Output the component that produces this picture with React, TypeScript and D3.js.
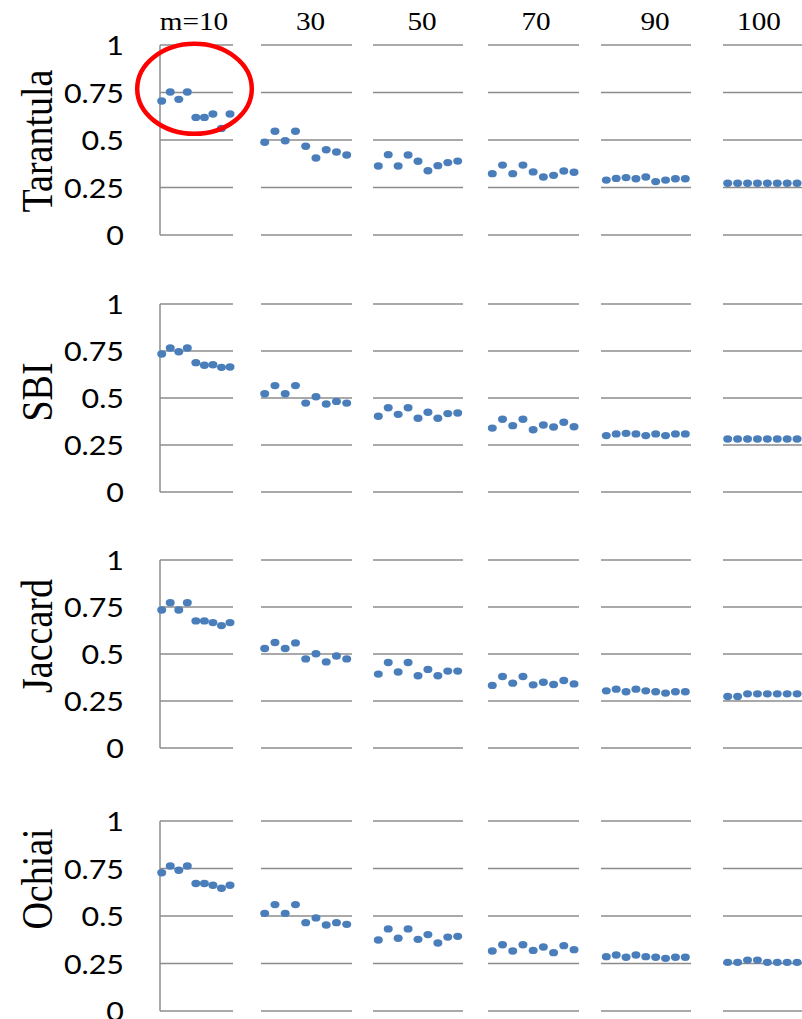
import React from 'react';
import * as d3 from 'd3';

// Data
const methods = ['Tarantula', 'SBI', 'Jaccard', 'Ochiai'];
const mLabels = ['m=10', '30', '50', '70', '90', '100'];
const yTicks = [0, 0.25, 0.5, 0.75, 1];
const yTickLabels = ['0', '0.25', '0.5', '0.75', '1'];

const tarantulaValues = [
  [0.705, 0.753, 0.714, 0.753, 0.619, 0.619, 0.637, 0.561, 0.637],
  [0.488, 0.546, 0.496, 0.546, 0.467, 0.405, 0.449, 0.437, 0.421],
  [0.363, 0.423, 0.363, 0.421, 0.388, 0.338, 0.365, 0.381, 0.389],
  [0.323, 0.368, 0.323, 0.368, 0.332, 0.305, 0.314, 0.337, 0.330],
  [0.289, 0.298, 0.302, 0.296, 0.305, 0.281, 0.289, 0.296, 0.296],
  [0.272, 0.272, 0.272, 0.272, 0.272, 0.272, 0.272, 0.272, 0.272],
];

const sbiValues = [
  [0.734, 0.766, 0.746, 0.766, 0.688, 0.674, 0.677, 0.663, 0.665],
  [0.523, 0.566, 0.523, 0.566, 0.473, 0.507, 0.468, 0.482, 0.473],
  [0.403, 0.448, 0.413, 0.448, 0.392, 0.424, 0.392, 0.417, 0.420],
  [0.340, 0.387, 0.353, 0.387, 0.331, 0.356, 0.346, 0.371, 0.347],
  [0.300, 0.309, 0.312, 0.309, 0.300, 0.309, 0.300, 0.309, 0.309],
  [0.282, 0.282, 0.282, 0.282, 0.282, 0.282, 0.282, 0.282, 0.282],
];

const jaccardValues = [
  [0.734, 0.773, 0.734, 0.773, 0.676, 0.676, 0.667, 0.651, 0.667],
  [0.529, 0.561, 0.529, 0.559, 0.474, 0.501, 0.458, 0.489, 0.474],
  [0.393, 0.455, 0.404, 0.455, 0.384, 0.418, 0.384, 0.409, 0.409],
  [0.333, 0.380, 0.345, 0.380, 0.336, 0.350, 0.338, 0.359, 0.341],
  [0.304, 0.313, 0.299, 0.313, 0.304, 0.299, 0.292, 0.299, 0.299],
  [0.274, 0.274, 0.288, 0.288, 0.288, 0.288, 0.288, 0.288, 0.288],
];

const ochiaiValues = [
  [0.728, 0.763, 0.741, 0.763, 0.671, 0.671, 0.662, 0.646, 0.662],
  [0.514, 0.560, 0.514, 0.560, 0.465, 0.490, 0.453, 0.465, 0.456],
  [0.374, 0.432, 0.383, 0.432, 0.377, 0.402, 0.358, 0.389, 0.393],
  [0.316, 0.349, 0.316, 0.349, 0.319, 0.337, 0.307, 0.344, 0.323],
  [0.286, 0.295, 0.283, 0.295, 0.286, 0.283, 0.277, 0.283, 0.283],
  [0.256, 0.256, 0.268, 0.268, 0.256, 0.256, 0.256, 0.256, 0.256],
];

const allValues = [tarantulaValues, sbiValues, jaccardValues, ochiaiValues];

// Layout (pixels)
const W = 802;
const H = 1019;
const rowsLayout = [
  { top: 45, bottom: 235, labelY: 141 },
  { top: 304, bottom: 492, labelY: 392 },
  { top: 560, bottom: 748, labelY: 636 },
  { top: 821, bottom: 1011, labelY: 879 },
];
const panelsLayout = [
  { x0: 160, x1: 233, d0: 161.7, d1: 230, titleX: 194 },
  { x0: 261, x1: 352, d0: 264.7, d1: 346.7, titleX: 310.5 },
  { x0: 373, x1: 463, d0: 378.3, d1: 457.7, titleX: 422 },
  { x0: 488, x1: 579, d0: 492.3, d1: 574, titleX: 536 },
  { x0: 601, x1: 691, d0: 606.3, d1: 685.3, titleX: 655 },
  { x0: 723, x1: 814, d0: 727.7, d1: 807, titleX: 759 },
];

const gridColor = '#8c8c8c';
const dotColor = '#4a7ebb';
const stretch = 1.17;

export default function App() {
  return (
    <div style={{ position: 'absolute', left: 0, top: 0 }}>
      <svg width={W} height={H} viewBox={`0 0 ${W} ${H}`} style={{ display: 'block', background: '#fff' }}>
        <rect width={W} height={H} fill="#fff" />

        {/* column headers */}
        {mLabels.map((lab, i) => (
          <text
            key={lab}
            transform={`translate(${panelsLayout[i].titleX},30) scale(${stretch},1)`}
            textAnchor="middle"
            fontFamily="'Liberation Serif', 'Times New Roman', serif"
            fontSize={25}
            fill="#000"
          >
            {lab}
          </text>
        ))}

        {methods.map((method, r) => {
          const row = rowsLayout[r];
          const y = d3.scaleLinear().domain([0, 1]).range([row.bottom, row.top]);
          return (
            <g key={method}>
              {/* row label */}
              <text
                transform={`translate(52,${row.labelY}) scale(${stretch},1) rotate(-90)`}
                textAnchor="middle"
                fontFamily="'Liberation Serif', 'Times New Roman', serif"
                fontSize={38}
                fill="#000"
              >
                {method}
              </text>

              {/* y tick labels */}
              {yTicks.map((t, k) => (
                <text
                  key={t}
                  transform={`translate(124,${y(t)}) scale(${stretch},1)`}
                  textAnchor="end"
                  dominantBaseline="central"
                  fontFamily="Lato, 'Open Sans', sans-serif"
                  fontSize={26}
                  fill="#000"
                >
                  {yTickLabels[k]}
                </text>
              ))}

              {panelsLayout.map((p, c) => {
                const x = d3.scaleLinear().domain([0, 8]).range([p.d0, p.d1]);
                const vals = allValues[r][c];
                return (
                  <g key={c}>
                    {yTicks.map((t) => (
                      <line
                        key={t}
                        x1={p.x0}
                        x2={p.x1}
                        y1={y(t)}
                        y2={y(t)}
                        stroke={gridColor}
                        strokeWidth={1.5}
                      />
                    ))}
                    {c === 0 && (
                      <line
                        x1={p.x0}
                        x2={p.x0}
                        y1={y(1)}
                        y2={y(0)}
                        stroke={gridColor}
                        strokeWidth={1.5}
                      />
                    )}
                    {vals.map((v, k) => (
                      <ellipse key={k} cx={x(k)} cy={y(v)} rx={4.5} ry={3.7} fill={dotColor} />
                    ))}
                  </g>
                );
              })}
            </g>
          );
        })}

        {/* highlight ring around first panel */}
        <ellipse cx={194.5} cy={88.8} rx={57.3} ry={45} fill="none" stroke="#ff0000" strokeWidth={4.5} />
      </svg>
    </div>
  );
}
